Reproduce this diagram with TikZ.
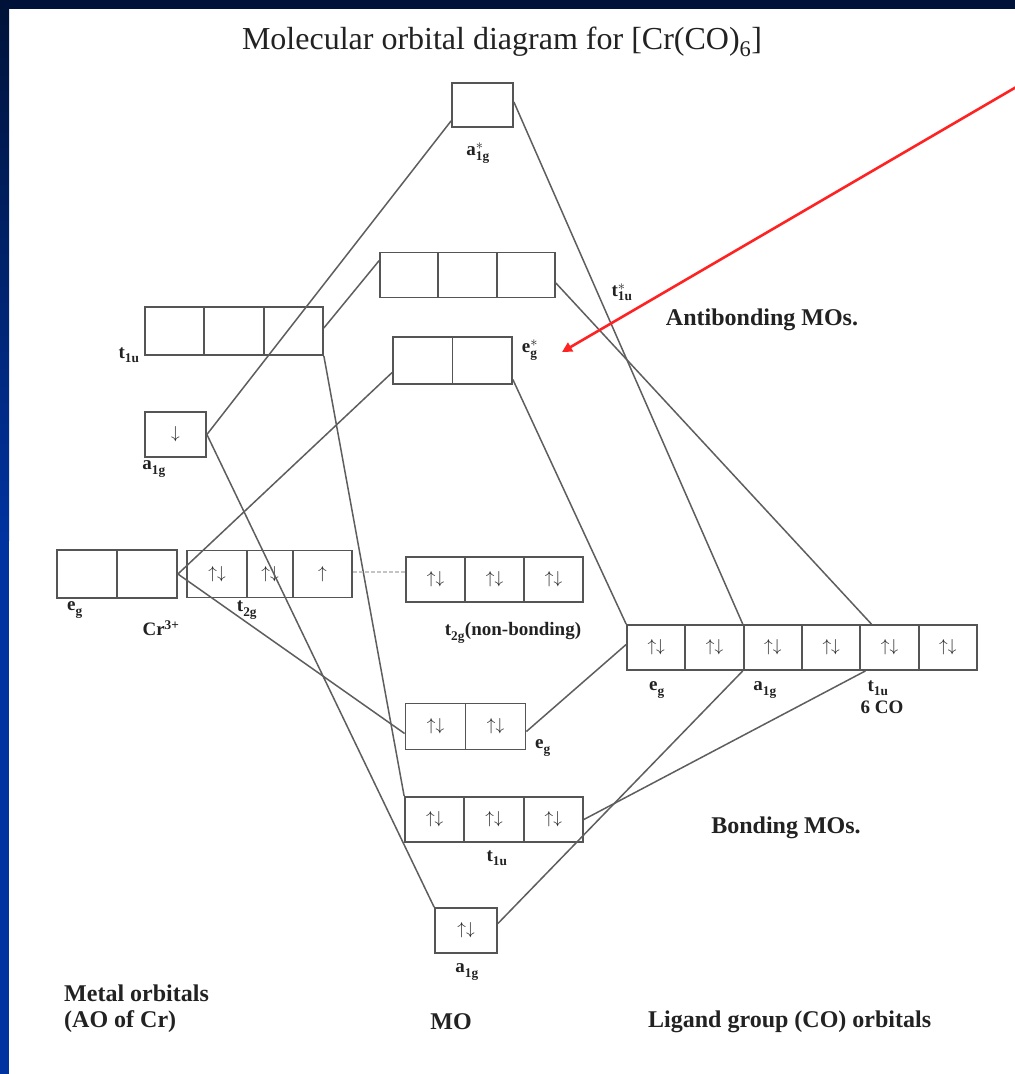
\documentclass[tikz,border=0pt]{standalone}
\usepackage{fontspec}
\setmainfont{Liberation Serif}
\usetikzlibrary{arrows.meta,calc}
\definecolor{navyA}{HTML}{001238}
\definecolor{blueA}{HTML}{0033A0}
\definecolor{boxgray}{HTML}{555555}
\definecolor{linegray}{HTML}{5E5E5E}
\definecolor{dotgray}{HTML}{C4C4C4}
\definecolor{txt}{HTML}{222222}
\definecolor{arrred}{HTML}{FF2222}
\newcommand{\ud}{$\uparrow\downarrow$}
\newcommand{\orbl}[3]{$\mathbf{#1}^{#2}_{\mathbf{#3}}$}
\begin{document}
\begin{tikzpicture}[x=1pt,y=-1pt,
  cell/.style={draw=boxgray, line width=1.8pt, inner sep=0pt, minimum height=45pt, text=txt,
               font=\fontsize{17}{17}\selectfont},
  conn/.style={draw=linegray, line width=1.5pt},
  lbl/.style={font=\fontsize{19}{19}\selectfont\bfseries, inner sep=0pt, text=txt},
  big/.style={font=\fontsize{24}{26}\selectfont\bfseries, inner sep=0pt, text=txt},
  ttl/.style={font=\fontsize{32}{34}\selectfont, inner sep=0pt, text=txt}]
% background and frame
\fill[white] (0,0) rectangle (1015,1074);
\useasboundingbox (0,0) rectangle (1015,1074);
\shade[top color=navyA, bottom color=blueA] (0,0) rectangle (9,540);
\fill[blueA] (0,539) rectangle (9,1074);
\fill[navyA] (0,0) rectangle (1015,9);

% title
\node[ttl] (title) at (502,42) {Molecular orbital diagram for [Cr(CO)\textsubscript{6}]};

% antibonding MOs
\node[cell, minimum width=61pt, minimum height=44pt] (astar) at (482.5,105) {};
\node[cell, minimum width=58.3pt] (tstar1) at (409.2,275) {};
\node[cell, minimum width=58.3pt] (tstar2) at (467.5,275) {};
\node[cell, minimum width=58.3pt] (tstar3) at (525.8,275) {};
\node[cell, minimum width=59.5pt, minimum height=47pt] (estar1) at (422.8,360.5) {};
\node[cell, minimum width=59.5pt, minimum height=47pt] (estar2) at (482.2,360.5) {};

% metal orbitals
\node[cell, minimum width=59.3pt, minimum height=48pt] (t1um1) at (174.7,331) {};
\node[cell, minimum width=59.3pt, minimum height=48pt] (t1um2) at (234,331) {};
\node[cell, minimum width=59.3pt, minimum height=48pt] (t1um3) at (293.3,331) {};
\node[cell, minimum width=61pt] (a1gm) at (175.5,434.5) {$\downarrow$};
\node[cell, minimum width=60pt, minimum height=48pt] (egm1) at (87,574) {};
\node[cell, minimum width=60pt, minimum height=48pt] (egm2) at (147,574) {};
\node[cell, minimum width=60pt, minimum height=47pt] (t2gm1) at (217,574) {\ud};
\node[cell, minimum width=46pt, minimum height=47pt] (t2gm2) at (270,574) {\ud};
\node[cell, minimum width=59pt, minimum height=47pt] (t2gm3) at (322.5,574) {$\uparrow$};

% non-bonding
\node[cell, minimum width=59pt] (t2gnb1) at (435.5,579.5) {\ud};
\node[cell, minimum width=59pt] (t2gnb2) at (494.5,579.5) {\ud};
\node[cell, minimum width=59pt] (t2gnb3) at (553.5,579.5) {\ud};

% ligand group orbitals
\node[cell, minimum width=58.3pt] (lig1) at (656.2,647.5) {\ud};
\node[cell, minimum width=58.3pt] (lig2) at (714.5,647.5) {\ud};
\node[cell, minimum width=58.3pt] (lig3) at (772.8,647.5) {\ud};
\node[cell, minimum width=58.3pt] (lig4) at (831.2,647.5) {\ud};
\node[cell, minimum width=58.3pt] (lig5) at (889.5,647.5) {\ud};
\node[cell, minimum width=58.3pt] (lig6) at (947.8,647.5) {\ud};

% bonding MOs
\node[cell, minimum width=60pt, minimum height=46pt] (egb1) at (435.5,726.5) {\ud};
\node[cell, minimum width=60pt, minimum height=46pt] (egb2) at (495.5,726.5) {\ud};
\node[cell, minimum width=59.3pt] (t1ub1) at (434.7,819.5) {\ud};
\node[cell, minimum width=59.3pt] (t1ub2) at (494,819.5) {\ud};
\node[cell, minimum width=59.3pt] (t1ub3) at (553.3,819.5) {\ud};
\node[cell, minimum width=62pt] (a1gb) at (466,930.5) {\ud};

% connectors
\draw[conn] (a1gm.east) -- ([yshift=7pt]astar.south west);
\draw[conn] (a1gm.east) -- (a1gb.north west);
\draw[conn] ([yshift=3pt]t1um3.east) -- ([yshift=-9pt]tstar1.north west);
\draw[conn] (t1um3.south east) -- (t1ub1.north west);
\draw[conn] (egm2.east) -- ([yshift=-12pt]estar1.west);
\draw[conn] (egm2.east) -- ([yshift=-7pt]egb1.west);
\draw[conn] ([yshift=3pt]astar.east) -- (lig3.north west);
\draw[conn] ([yshift=-8pt]tstar3.east) -- ([xshift=12pt]lig5.north west);
\draw[conn] ([yshift=-19pt]estar2.east) -- (lig1.north west);
\draw[conn] ([yshift=3pt]lig1.west) -- ([yshift=-5pt]egb2.east);
\draw[conn] (lig3.south west) -- ([yshift=7pt]a1gb.east);
\draw[conn] ([xshift=6pt]lig5.south west) -- (t1ub3.east);
\draw[dotgray, line width=1.5pt, dash pattern=on 4pt off 2pt] ([yshift=2pt]t2gm3.east) -- ([yshift=2pt]t2gm3.east -| t2gnb1.west);

% red arrow
\coordinate (arrtail) at (1018,86);
\coordinate (arrtip) at (562,352);
\draw[arrred, line width=2.6pt, -{Triangle[length=10pt,width=10pt]}] (arrtail) -- (arrtip);

% orbital labels
\node[lbl] (l-astar) at (478,153) {\orbl{a}{*}{1g}};
\node[lbl] (l-tstar) at (622,292) {\orbl{t}{*}{1u}};
\node[lbl] (l-estar) at (530,350) {\orbl{e}{*}{g}};
\node[lbl] (l-t1um) at (129,355) {\orbl{t}{}{1u}};
\node[lbl] (l-a1gm) at (154,469) {\orbl{a}{}{1g}};
\node[lbl] (l-egm) at (75,610) {\orbl{e}{}{g}};
\node[lbl] (l-cr) at (161,628) {Cr\textsuperscript{3+}};
\node[lbl] (l-t2gm) at (247,610) {\orbl{t}{}{2g}};
\node[lbl] (l-nb) at (513,633) {\orbl{t}{}{2g}(non-bonding)};
\node[lbl] (l-ligeg) at (657,690) {\orbl{e}{}{g}};
\node[lbl] (l-liga) at (765,690) {\orbl{a}{}{1g}};
\node[lbl] (l-ligt) at (878,688) {\orbl{t}{}{1u}};
\node[lbl] (l-6co) at (882,707) {6 CO};
\node[lbl] (l-egb) at (543,748) {\orbl{e}{}{g}};
\node[lbl] (l-t1ub) at (497,858) {\orbl{t}{}{1u}};
\node[lbl] (l-a1gb) at (467,972) {\orbl{a}{}{1g}};

% section labels
\node[big] (anti) at (762,320) {Antibonding MOs.};
\node[big] (bond) at (786,828) {Bonding MOs.};
\node[big, anchor=west] (metal1) at (64,993) {Metal orbitals};
\node[big, anchor=west] (metal2) at (64,1022) {(AO of Cr)};
\node[big] (mo) at (451,1022) {MO};
\node[big, anchor=west] (ligand) at (648,1022) {Ligand group (CO) orbitals};
\end{tikzpicture}
\end{document}
